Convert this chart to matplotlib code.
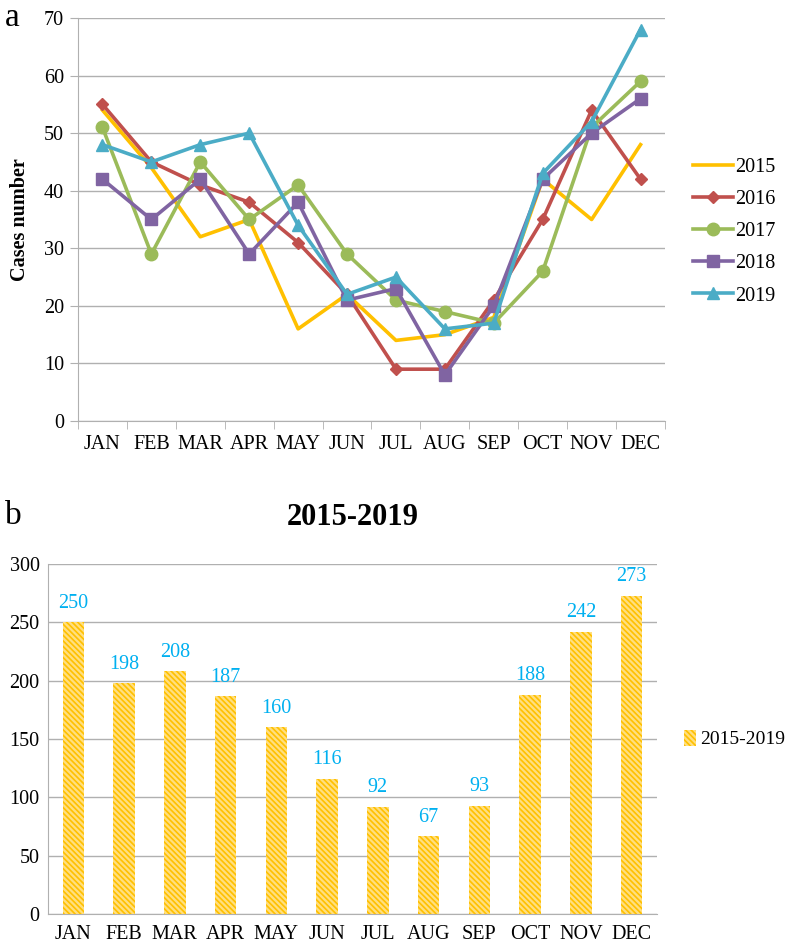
import matplotlib
matplotlib.use('Agg')
import matplotlib.pyplot as plt
import numpy as np

plt.rcParams['font.family'] = ['Liberation Serif', 'DejaVu Serif']
plt.rcParams['hatch.linewidth'] = 1.2

months = ['JAN', 'FEB', 'MAR', 'APR', 'MAY', 'JUN', 'JUL', 'AUG', 'SEP', 'OCT', 'NOV', 'DEC']
years = ['2015', '2016', '2017', '2018', '2019']
cases_2015 = [54, 44, 32, 35, 16, 22, 14, 15, 18, 42, 35, 48]
cases_2016 = [55, 45, 41, 38, 31, 22, 9, 9, 21, 35, 54, 42]
cases_2017 = [51, 29, 45, 35, 41, 29, 21, 19, 17, 26, 51, 59]
cases_2018 = [42, 35, 42, 29, 38, 21, 23, 8, 20, 42, 50, 56]
cases_2019 = [48, 45, 48, 50, 34, 22, 25, 16, 17, 43, 52, 68]
totals = [250, 198, 208, 187, 160, 116, 92, 67, 93, 188, 242, 273]

colors = ['#FFC000', '#C0504D', '#9BBB59', '#8064A2', '#4BACC6']
markers = [None, 'D', 'o', 's', '^']
msizes = [0, 6, 9, 9, 9]
grid_c = '#B0B0B0'
fs = 14.5

W, H = 787, 946
fig = plt.figure(figsize=(W / 100, H / 100), dpi=100)

def box(l, t, r, b):
    return [l / W, 1 - b / H, (r - l) / W, (b - t) / H]

x = np.arange(len(months))

# ---- panel a: line chart
ax1 = fig.add_axes(box(78, 18, 665, 421))
series = [cases_2015, cases_2016, cases_2017, cases_2018, cases_2019]
for yr, vals, c, m, ms in zip(years, series, colors, markers, msizes):
    ax1.plot(x, vals, color=c, lw=2.6, marker=m, ms=ms, label=yr, zorder=3)
ax1.set_xlim(-0.5, 11.5)
ax1.set_ylim(0, 70)
ax1.set_yticks(range(0, 71, 10))
ax1.set_xticks(x)
ax1.set_xticklabels(months)
ax1.set_xticks(np.arange(-0.5, 12, 1), minor=True)
ax1.tick_params(axis='x', which='major', length=0, pad=10, labelsize=fs)
ax1.tick_params(axis='x', which='minor', length=6, color=grid_c, direction='out')
ax1.tick_params(axis='y', length=6, color=grid_c, labelsize=fs, pad=4)
ax1.yaxis.grid(True, color=grid_c, lw=1)
ax1.set_axisbelow(True)
for s in ['top', 'right']:
    ax1.spines[s].set_visible(False)
for s in ['left', 'bottom']:
    ax1.spines[s].set_color(grid_c)
ax1.set_ylabel('Cases number', fontsize=fs, fontweight='bold', labelpad=10)
ax1.legend(loc='center left', bbox_to_anchor=(1.048, 0.47), frameon=False,
           fontsize=fs, handlelength=2.0, labelspacing=0.65, handletextpad=0.1,
           borderaxespad=0, borderpad=0)
fig.text(5 / W, 1 - 2 / H, 'a', fontsize=24, va='top')

# ---- panel b: bar chart
ax2 = fig.add_axes(box(48, 564, 657, 914))
ax2.bar(x, totals, width=0.42, facecolor='#FFDF80', edgecolor='#FFC000',
        hatch='\\\\\\\\\\\\', lw=0, label='2015-2019', zorder=3)
for xi, v in zip(x, totals):
    ax2.text(xi, v + 8, str(v), ha='center', va='bottom', color='#00B0F0', fontsize=fs)
ax2.set_xlim(-0.5, 11.5)
ax2.set_ylim(0, 300)
ax2.set_yticks(range(0, 301, 50))
ax2.set_xticks(x)
ax2.set_xticklabels(months)
ax2.tick_params(axis='x', length=0, pad=8, labelsize=fs)
ax2.tick_params(axis='y', length=0, labelsize=fs, pad=6)
ax2.yaxis.grid(True, color=grid_c, lw=1)
ax2.set_axisbelow(True)
for s in ['top', 'right']:
    ax2.spines[s].set_visible(False)
for s in ['left', 'bottom']:
    ax2.spines[s].set_color(grid_c)
ax2.set_title('2015-2019', fontsize=22, fontweight='bold', pad=28)
ax2.legend(loc='center left', bbox_to_anchor=(1.045, 0.5), frameon=False,
           fontsize=fs - 0.5, handlelength=0.6, handleheight=0.9, handletextpad=0.2,
           borderaxespad=0, borderpad=0)
fig.text(5 / W, 1 - 500 / H, 'b', fontsize=24, va='top')

fig.savefig('out.png', dpi=100)
